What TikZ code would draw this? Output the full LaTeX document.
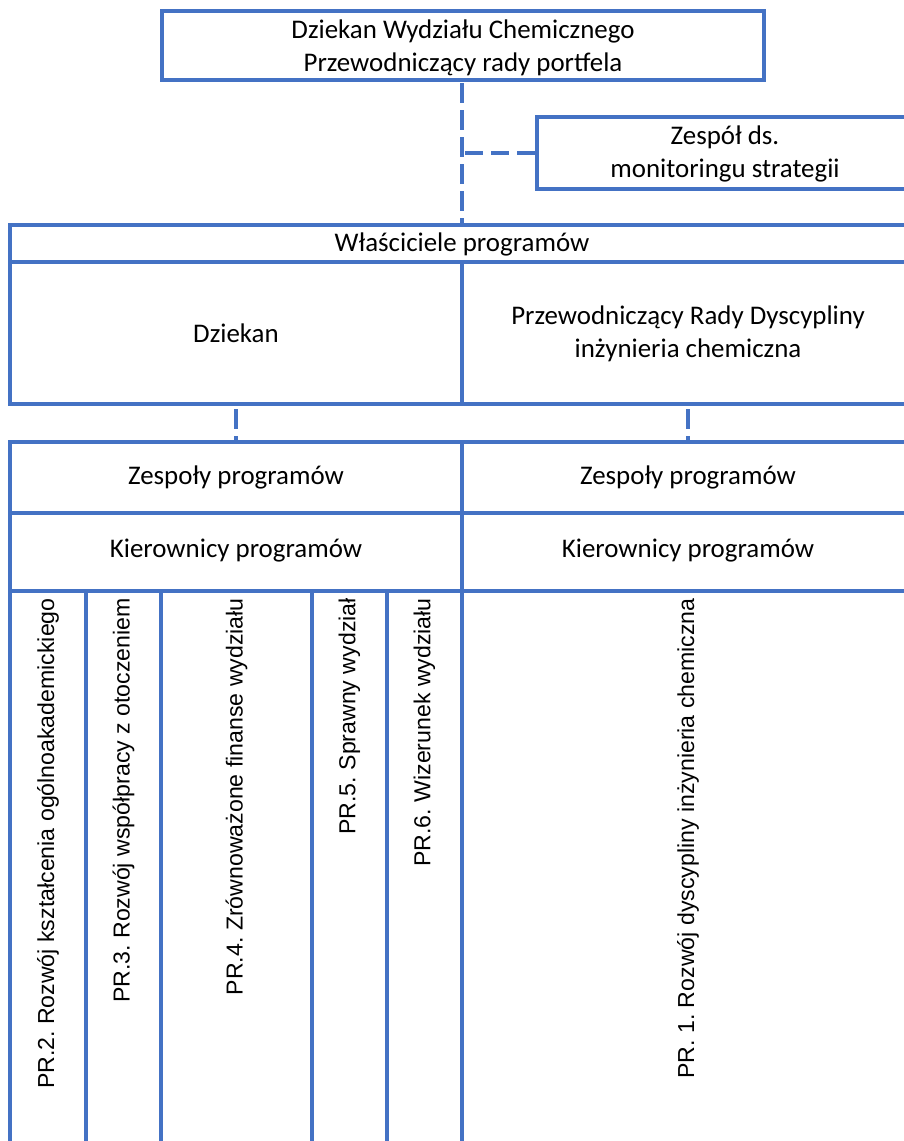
\documentclass[tikz,border=0pt]{standalone}
\usepackage{fontspec}
\setmainfont{Carlito}
\newfontfamily\colfont{Liberation Sans}
\definecolor{obl}{HTML}{4472C4}
\frenchspacing
\begin{document}
\begin{tikzpicture}[x=1bp,y=-1bp,
  line/.style={draw=obl,line width=4.5bp},
  dashline/.style={draw=obl,line width=4.5bp,dash pattern=on 20bp off 7bp},
  boxnode/.style={draw=obl,line width=4.5bp,inner sep=0,outer sep=0},
  lbl/.style={font=\fontsize{27}{33}\selectfont,align=center,inner sep=0},
  coltxt/.style={font=\colfont\frenchspacing\fontsize{23.2}{26}\selectfont,rotate=90,anchor=east,inner sep=0}]
\useasboundingbox (0,0) rectangle (904,1141);
\clip (0,0) rectangle (904,1141);
% top box
\node[boxnode,minimum width=602bp,minimum height=69bp] (top) at (463,45.5) {};
\node[lbl] (toptxt) at (463,48) {Dziekan Wydziału Chemicznego\\Przewodniczący rady portfela};
% monitoring box
\node[boxnode,minimum width=376bp,minimum height=72bp] (mon) at (725,153) {};
\node[lbl] (montxt) at (725,154) {Zespół ds.\\monitoringu strategii};
% owners table
\draw[line] (10,225) rectangle (915,404);
\draw[line] (10,262) -- (915,262);
\draw[line] (462,262) -- (462,404);
\node[lbl] (own) at (462,244) {Właściciele programów};
\node[lbl] (dz) at (236,333) {Dziekan};
\node[lbl] (prz) at (688,334) {Przewodniczący Rady Dyscypliny\\inżynieria chemiczna};
% lower table
\draw[line] (10,1160) -- (10,442) -- (915,442);
\draw[line] (10,513) -- (915,513);
\draw[line] (10,591) -- (915,591);
\draw[line] (462,442) -- (462,1160);
\foreach \cx in {86,161,312,387} \draw[line] (\cx,591) -- (\cx,1160);
\node[lbl] (zl) at (236,477) {Zespoły programów};
\node[lbl] (zr) at (688,477) {Zespoły programów};
\node[lbl] (kl) at (236,551) {Kierownicy programów};
\node[lbl] (kr) at (688,551) {Kierownicy programów};
\node[coltxt] (p2) at (48,598) {PR.2. Rozwój kształcenia ogólnoakademickiego};
\node[coltxt] (p3) at (123.5,598) {PR.3. Rozwój współpracy z otoczeniem};
\node[coltxt] (p4) at (236.5,598) {PR.4. Zrównoważone finanse wydziału};
\node[coltxt] (p5) at (349.5,598) {PR.5. Sprawny wydział};
\node[coltxt] (p6) at (424.5,598) {PR.6. Wizerunek wydziału};
\node[coltxt] (p1) at (688,598) {PR. 1. Rozwój dyscypliny inżynieria chemiczna};
% connectors
\coordinate (topS) at (462,80);
\coordinate (ownTop) at (462,225);
\coordinate (branch) at (462,153);
\coordinate (s1a) at (236,406);
\coordinate (s1b) at (236,442);
\coordinate (s2a) at (688,406);
\coordinate (s2b) at (688,442);
\draw[dashline,dash phase=-3bp] (topS) -- (ownTop);
\draw[dashline,dash pattern=on 18bp off 8bp,dash phase=-3bp] (branch) -- (mon.west);
\draw[dashline,dash phase=-3bp] (s1a) -- (s1b);
\draw[dashline,dash phase=-3bp] (s2a) -- (s2b);
\end{tikzpicture}
\end{document}
